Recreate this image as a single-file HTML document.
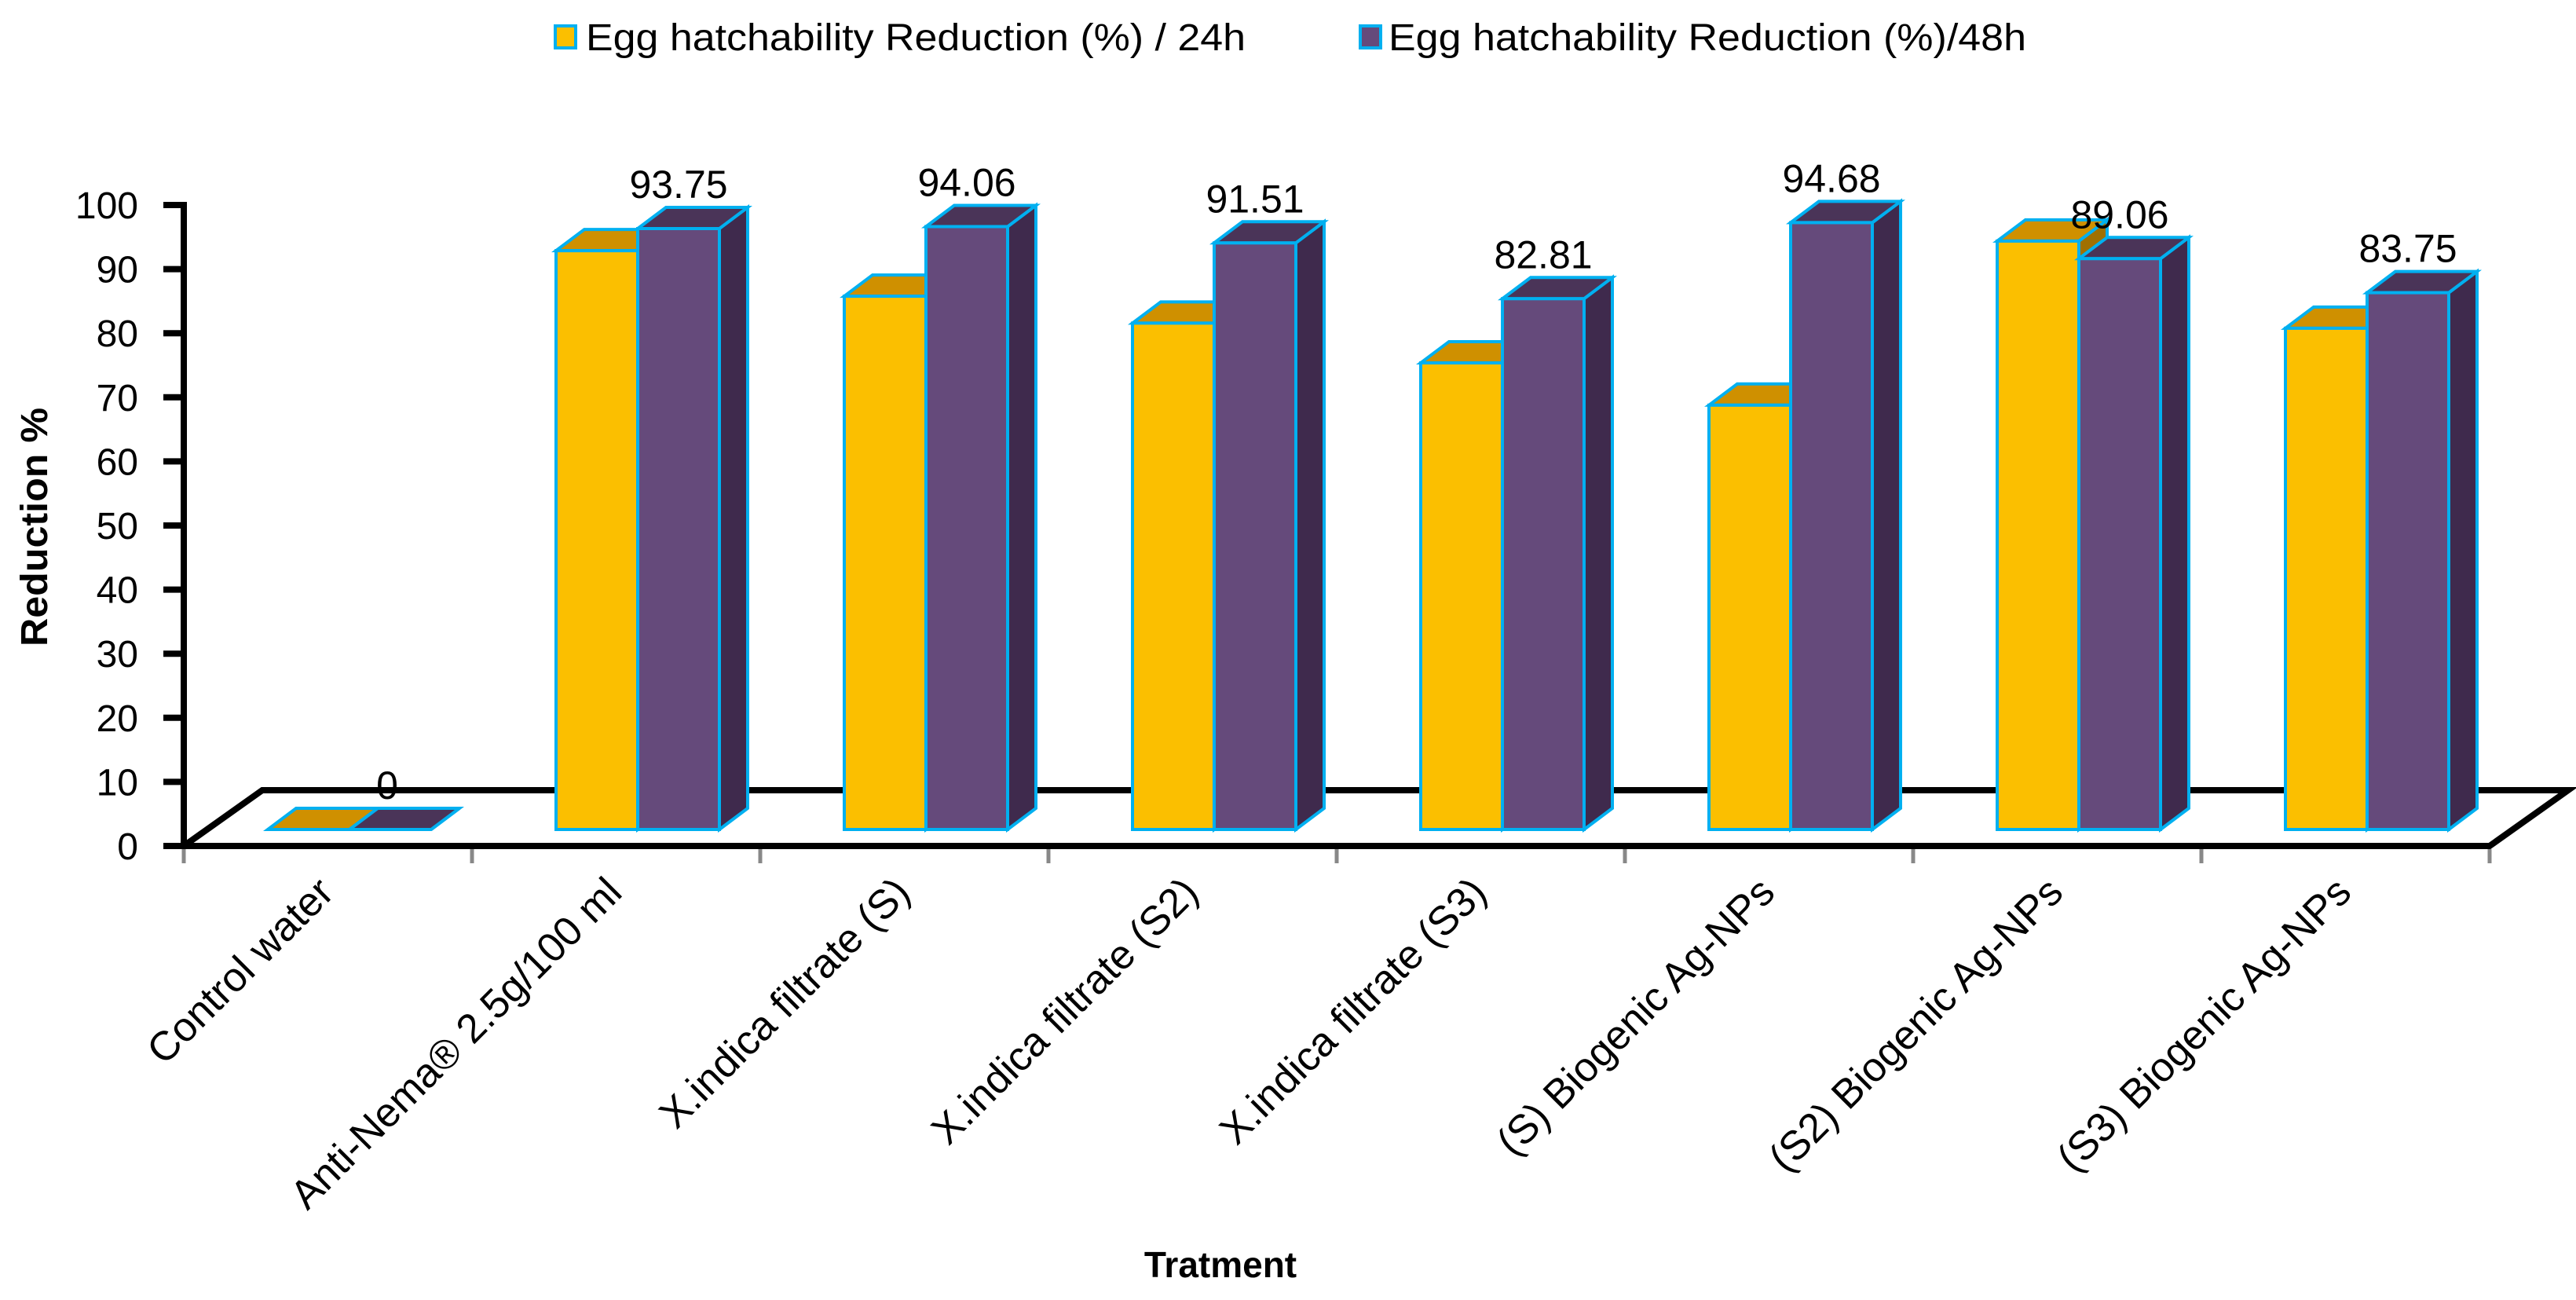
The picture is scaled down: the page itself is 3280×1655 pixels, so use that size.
<!DOCTYPE html>
<html><head><meta charset="utf-8"><style>
html,body{margin:0;padding:0;background:#fff;}
svg{display:block;font-family:"Liberation Sans",sans-serif;}
</style></head><body>
<svg id="chart" width="3280" height="1655" viewBox="0 0 3280 1655" xmlns="http://www.w3.org/2000/svg">
<g id="legend">
 <rect x="707" y="33" width="26" height="28" fill="#FBBF00" stroke="#00B0F0" stroke-width="4"/>
 <text x="746" y="64" font-size="48" textLength="840" lengthAdjust="spacingAndGlyphs">Egg hatchability Reduction (%) / 24h</text>
 <rect x="1732" y="33" width="26" height="28" fill="#654A7B" stroke="#00B0F0" stroke-width="4"/>
 <text x="1768" y="64" font-size="48" textLength="812" lengthAdjust="spacingAndGlyphs">Egg hatchability Reduction (%)/48h</text>
</g>
<text transform="translate(60,671) rotate(-90)" text-anchor="middle" font-size="48" font-weight="bold" textLength="304" lengthAdjust="spacingAndGlyphs">Reduction %</text>
<text x="1554" y="1626" text-anchor="middle" font-size="46" font-weight="bold">Tratment</text>
<g id="plot"></g>
</svg>
<script>
const categories = ["Control water","Anti-Nema\u00AE 2.5g/100 ml","X.indica filtrate (S)","X.indica filtrate (S2)","X.indica filtrate (S3)","(S)   Biogenic Ag-NPs","(S2)   Biogenic Ag-NPs","(S3)   Biogenic Ag-NPs"];
const series24 = [0, 90.3, 83.2, 79.0, 72.8, 66.2, 91.8, 78.2];
const series48 = [0, 93.75, 94.06, 91.51, 82.81, 94.68, 89.06, 83.75];
const labels48 = ["0","93.75","94.06","91.51","82.81","94.68","89.06","83.75"];
const yTicks = [0,10,20,30,40,50,60,70,80,90,100];

const NS = "http://www.w3.org/2000/svg";
const plot = document.getElementById('plot');
const X0 = 234, Y0 = 1077, XEND = 3170, UNIT = 8.16, BASE = 1056;
const catW = (XEND - X0) / categories.length;
const BW = 104, DX = 36, DY = -27, FDX = 100, FDY = -71;
function yAxis(v){ return Y0 - v*UNIT; }
function yBar(v){ return BASE - v*UNIT; }
function mk(tag, attrs, parent){ const e=document.createElementNS(NS,tag); for(const k in attrs) e.setAttribute(k,attrs[k]); (parent||plot).appendChild(e); return e; }

// floor
const floor = mk('path',{d:`M${X0} ${Y0} L${X0+FDX} ${Y0+FDY} L${XEND+FDX} ${Y0+FDY} L${XEND} ${Y0} Z`,fill:'none',stroke:'#000','stroke-width':8,'stroke-linejoin':'miter'});



// y axis
const ya = mk('line',{x1:X0,y1:yAxis(100)-4,x2:X0,y2:Y0+4,stroke:'#000','stroke-width':8});


yTicks.forEach(t=>{
  const tk = mk('line',{x1:X0-26,y1:yAxis(t),x2:X0,y2:yAxis(t),stroke:'#000','stroke-width':8});
  
  
  const tl = mk('text',{x:X0-58,y:yAxis(t)+17,'text-anchor':'end','font-size':48});
  tl.textContent = t;
  
  
});
// x ticks
for(let i=0;i<=categories.length;i++){
  const x = X0 + i*catW;
  const tk = mk('line',{x1:x,y1:Y0+4,x2:x,y2:Y0+22,stroke:'#888','stroke-width':5});
  
  
}

function bar(x, v, front, top, side, name){
  const g = mk('g',{});
  
  
  const yt = yBar(v);
  mk('path',{d:`M${x+BW} ${BASE} L${x+BW+DX} ${BASE+DY} L${x+BW+DX} ${yt+DY} L${x+BW} ${yt} Z`,fill:side,stroke:'#00B0F0','stroke-width':4},g);
  mk('path',{d:`M${x} ${yt} L${x+DX} ${yt+DY} L${x+BW+DX} ${yt+DY} L${x+BW} ${yt} Z`,fill:top,stroke:'#00B0F0','stroke-width':4},g);
  if(v>0) mk('rect',{x:x,y:yt,width:BW,height:BASE-yt,fill:front,stroke:'#00B0F0','stroke-width':4},g);
}
categories.forEach((c,i)=>{
  const cx0 = X0 + i*catW;
  const xa = cx0 + 107;
  bar(xa, series24[i], '#FBBF00', '#CF9000', '#A07000', 'bar-24h-'+(i+1));
  bar(xa+BW, series48[i], '#654A7B', '#4A3458', '#3F2A4D', 'bar-48h-'+(i+1));
  const vl = mk('text',{x:xa+BW+BW/2+(i===0?-4:0),y:yBar(series48[i])+DY-12,'text-anchor':'middle','font-size':50});
  vl.textContent = labels48[i];
  
  
  const cxc = cx0 + catW/2 + 10;
  const lab = mk('text',{transform:`translate(${cxc},${Y0+62}) rotate(-45)`,'text-anchor':'end','font-size':52});
  lab.textContent = c;
  
  
});
</script>
</body></html>
